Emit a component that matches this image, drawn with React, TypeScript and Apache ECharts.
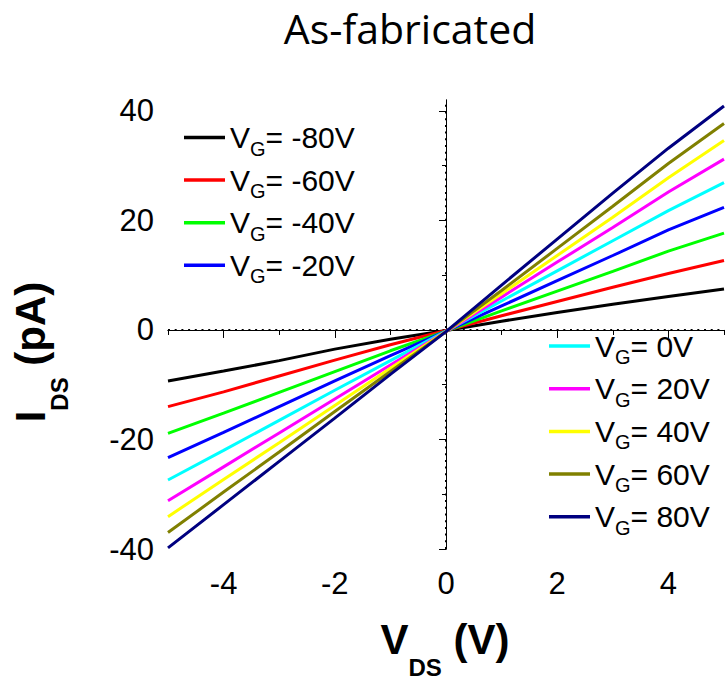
import React, { useEffect, useRef } from "react";
import * as echarts from "echarts";

const xValues = [-5, -4, -3, -2, -1, 0, 1, 2, 3, 4, 5];
const gateVoltages = [-80, -60, -40, -20, 0, 20, 40, 60, 80];
const seriesColors = ["#000000", "#ff0000", "#00ff00", "#0000ff", "#00ffff", "#ff00ff", "#ffff00", "#808000", "#000080"];

const iVgM80 = [-9.3, -7.5, -5.6, -3.5, -1.7, -0.1, 1.6, 3.2, 4.7, 6.1, 7.5];
const iVgM60 = [-14.0, -11.3, -8.4, -5.5, -2.7, -0.1, 2.6, 5.2, 7.8, 10.3, 12.7];
const iVgM40 = [-18.9, -15.2, -11.4, -7.6, -3.8, -0.2, 3.5, 7.1, 10.7, 14.4, 17.7];
const iVgM20 = [-23.3, -18.7, -14.0, -9.3, -4.7, -0.2, 4.4, 9.0, 13.6, 18.3, 22.4];
const iVg0 = [-27.4, -22.0, -16.5, -11.0, -5.6, -0.2, 5.3, 10.8, 16.3, 21.8, 26.9];
const iVg20 = [-31.2, -25.0, -18.8, -12.6, -6.4, -0.3, 6.0, 12.4, 18.7, 25.2, 31.2];
const iVg40 = [-34.1, -27.3, -20.6, -13.8, -7.0, -0.3, 6.6, 13.6, 20.6, 27.8, 34.6];
const iVg60 = [-37.0, -29.6, -22.3, -14.9, -7.6, -0.3, 7.2, 14.9, 22.6, 30.4, 37.7];
const iVg80 = [-39.8, -31.9, -24.0, -16.1, -8.1, -0.3, 8.2, 16.6, 25.0, 33.2, 40.9];
const currents = [iVgM80, iVgM60, iVgM40, iVgM20, iVg0, iVg20, iVg40, iVg60, iVg80];

const xTickLabels = [-4, -2, 0, 2, 4];
const xMinorTicks = [-5, -4, -3, -2, -1, 0, 1, 2, 3, 4, 5];
const yTickLabels = [-40, -20, 0, 20, 40];
const yMinorTicks = [-30, -10, 10, 30];
const yRightTicks = [-30, -20, -10, 0, 10, 20, 30, 40];

const FONT = "'Liberation Sans', Arial, Helvetica, sans-serif";

export default function App() {
  const ref = useRef<HTMLDivElement>(null);
  useEffect(() => {
    if (!ref.current) return;
    const chart = echarts.init(ref.current, null, { renderer: "svg" });
    const names = gateVoltages.map((v) => `VG= ${v}V`);
    const legendBase = {
      orient: "vertical",
      padding: 0,
      icon: "rect",
      itemWidth: 41,
      itemHeight: 3.5,
      selectedMode: false,
      formatter: (name: string) => `{v|V}{s|G}{v|${name.slice(2)}}`,
      textStyle: {
        color: "#000",
        fontFamily: FONT,
        fontSize: 30,
        rich: {
          v: { fontFamily: FONT, fontSize: 30, lineHeight: 30, color: "#000" },
          s: { fontFamily: FONT, fontSize: 20, lineHeight: 30, padding: [22, 0, 0, 0], color: "#000" },
        },
      },
    };
    const axisLineStyle = { color: "#000", width: 1 };
    const option: any = {
      animation: false,
      backgroundColor: "#fff",
      grid: { left: 168, right: 3, top: 100, bottom: 132, outerBoundsMode: "none" },
      legend: [
        { ...legendBase, data: names.slice(0, 4), left: 184, top: 116.5, itemGap: 0.6 },
        { ...legendBase, data: names.slice(4), left: 549, top: 325, itemGap: 0.7 },
      ],
      xAxis: [
        {
          type: "value", min: -5, max: 5, interval: 1, position: "bottom",
          axisLine: { show: true, lineStyle: axisLineStyle },
          axisTick: { show: true, inside: false, length: 8, customValues: xTickLabels, lineStyle: axisLineStyle },
          axisLabel: { show: true, customValues: xTickLabels, margin: 19, fontSize: 31, color: "#000", fontFamily: FONT },
          splitLine: { show: false },
        },
        {
          type: "value", min: -5, max: 5, interval: 1, position: "bottom",
          axisLine: { show: false },
          axisTick: { show: true, inside: false, length: 5, customValues: xMinorTicks, lineStyle: axisLineStyle },
          axisLabel: { show: false },
          splitLine: { show: false },
        },
        {
          type: "value", min: -5, max: 5, interval: 1, position: "top",
          axisLine: { show: true, lineStyle: axisLineStyle },
          axisTick: { show: true, inside: true, length: 3, customValues: xMinorTicks, lineStyle: axisLineStyle },
          axisLabel: { show: false },
          splitLine: { show: false },
        },
      ],
      yAxis: [
        {
          type: "value", min: -40, max: 42, interval: 10, position: "left",
          axisLine: { show: true, lineStyle: axisLineStyle },
          axisTick: { show: true, inside: false, length: 7, customValues: yTickLabels, lineStyle: axisLineStyle },
          axisLabel: { show: true, customValues: yTickLabels, margin: 14, fontSize: 31, color: "#000", fontFamily: FONT },
          splitLine: { show: false },
        },
        {
          type: "value", min: -40, max: 42, interval: 10, position: "left",
          axisLine: { show: false },
          axisTick: { show: true, inside: false, length: 4, customValues: yMinorTicks, lineStyle: axisLineStyle },
          axisLabel: { show: false },
          splitLine: { show: false },
        },
        {
          type: "value", min: -40, max: 42, interval: 10, position: "right",
          axisLine: { show: true, lineStyle: axisLineStyle },
          axisTick: { show: true, inside: true, length: 3, customValues: yRightTicks, lineStyle: axisLineStyle },
          axisLabel: { show: false },
          splitLine: { show: false },
        },
      ],
      series: currents.map((vals, i) => ({
        type: "line",
        name: names[i],
        xAxisIndex: 0,
        yAxisIndex: 0,
        data: xValues.map((x, j) => [x, vals[j]]),
        symbol: "none",
        color: seriesColors[i],
        lineStyle: { width: 3, color: seriesColors[i] },
        z: 2 + i,
        markLine:
          i === 0
            ? {
                silent: true,
                symbol: ["none", "none"],
                label: { show: false },
                lineStyle: { color: "#000", type: [2, 4.7], width: 2 },
                data: [{ xAxis: 0 }, { yAxis: 0 }],
                z: 1,
              }
            : undefined,
      })),
      graphic: [
        {
          type: "text",
          x: 410,
          y: 28,
          style: {
            text: "As-fabricated",
            fontFamily: "'Open Sans', sans-serif",
            fontSize: 41,
            fill: "#000",
            align: "center",
            verticalAlign: "middle",
          },
        },
        {
          type: "text",
          x: 445,
          y: 639,
          style: {
            text: "{b|V}{s|DS}{b| (V)}",
            align: "center",
            verticalAlign: "middle",
            fill: "#000",
            rich: {
              b: { fontFamily: FONT, fontSize: 42, fontWeight: "bold", lineHeight: 42, fill: "#000" },
              s: { fontFamily: FONT, fontSize: 24, fontWeight: "bold", lineHeight: 42, padding: [56, 0, 0, 0], fill: "#000" },
            },
          },
        },
        {
          type: "text",
          x: 30,
          y: 352,
          rotation: Math.PI / 2,
          style: {
            text: "{b|I}{s|DS}{b| (pA)}",
            align: "center",
            verticalAlign: "middle",
            fill: "#000",
            rich: {
              b: { fontFamily: FONT, fontSize: 42, fontWeight: "bold", lineHeight: 42, fill: "#000" },
              s: { fontFamily: FONT, fontSize: 24, fontWeight: "bold", lineHeight: 42, padding: [58, 0, 0, 0], fill: "#000" },
            },
          },
        },
      ],
    };
    chart.setOption(option);
    return () => chart.dispose();
  }, []);
  return <div ref={ref} style={{ position: "absolute", left: 0, top: 0, width: 727, height: 681 }} />;
}
